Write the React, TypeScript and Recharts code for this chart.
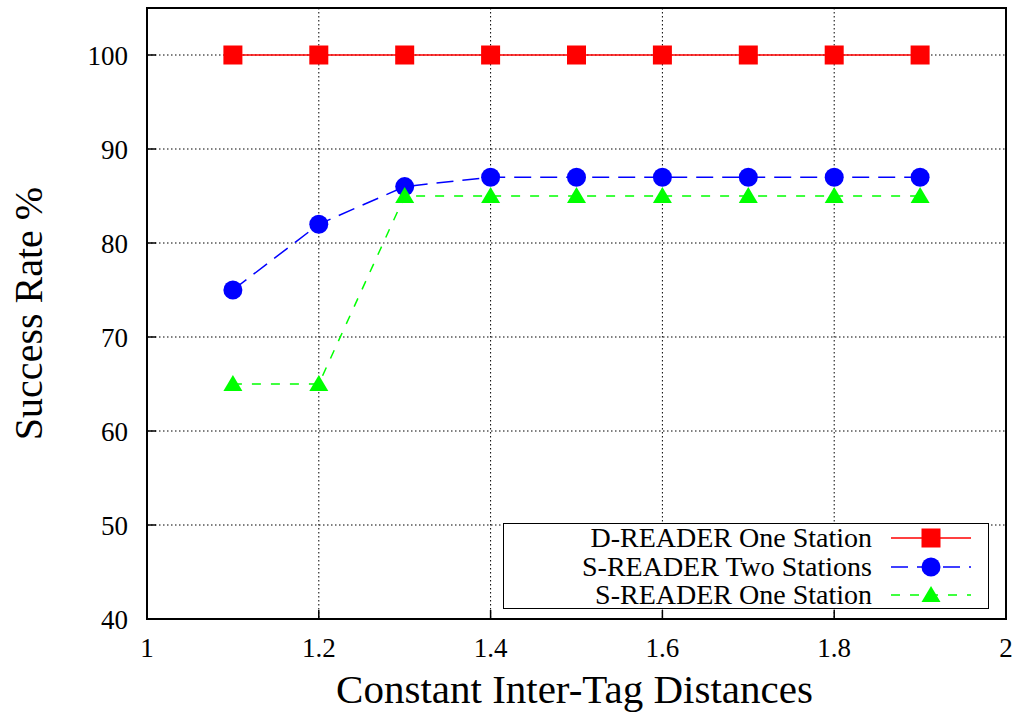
// Success rate vs. constant inter-tag distance, gnuplot-style look:
// boxed plot, inner ticks on all four sides, dotted grid, legend inside
// the lower right corner.

import { CartesianGrid, Legend, Line, LineChart, ReferenceArea, XAxis, YAxis } from "recharts";

const distances = [1.1, 1.2, 1.3, 1.4, 1.5, 1.6, 1.7, 1.8, 1.9];
const dReaderOne = [100, 100, 100, 100, 100, 100, 100, 100, 100];
const sReaderTwo = [75, 82, 86, 87, 87, 87, 87, 87, 87];
const sReaderOne = [65, 65, 85, 85, 85, 85, 85, 85, 85];

const xTicks = [1, 1.2, 1.4, 1.6, 1.8, 2];
const yTicks = [40, 50, 60, 70, 80, 90, 100];

const FONT = "Liberation Serif";
const RED = "#ff0000";
const BLUE = "#0000ff";
const GREEN = "#00ff00";

type Mark = "square" | "circle" | "triangle";

const SERIES: { key: string; name: string; color: string; dash?: string; mark: Mark }[] = [
  { key: "d1", name: "D-READER One Station", color: RED, mark: "square" },
  { key: "s2", name: "S-READER Two Stations", color: BLUE, dash: "17 9", mark: "circle" },
  { key: "s1", name: "S-READER One Station", color: GREEN, dash: "9 10", mark: "triangle" },
];

const data = distances.map((x, i) => ({
  x,
  d1: dReaderOne[i],
  s2: sReaderTwo[i],
  s1: sReaderOne[i],
}));

function markShape(mark: Mark, cx: number, cy: number, color: string, key?: string | number) {
  if (mark === "square") {
    return <rect key={key} x={cx - 9.5} y={cy - 9.5} width={19} height={19} fill={color} />;
  }
  if (mark === "circle") {
    return <circle key={key} cx={cx} cy={cy} r={9.5} fill={color} />;
  }
  return (
    <polygon
      key={key}
      points={`${cx},${cy - 9} ${cx - 9.5},${cy + 7} ${cx + 9.5},${cy + 7}`}
      fill={color}
    />
  );
}

function makeDot(mark: Mark, color: string) {
  return (props: any) => {
    const { cx, cy, index } = props;
    if (cx == null || cy == null) return <g key={index} />;
    return markShape(mark, cx, cy, color, index);
  };
}

function KeyBox() {
  return (
    <div
      style={{
        width: 486,
        height: 86,
        boxSizing: "border-box",
        border: "1.5px solid #000",
        background: "#fff",
        fontFamily: FONT,
        fontSize: 28,
        color: "#000",
      }}
    >
      {SERIES.map((s) => (
        <div key={s.key} style={{ display: "flex", alignItems: "center", height: 28.5, lineHeight: "28px" }}>
          <span style={{ width: 368, textAlign: "right", whiteSpace: "nowrap" }}>{s.name}</span>
          <svg width={80} height={24} style={{ marginLeft: 19 }}>
            <line
              x1={0}
              x2={80}
              y1={12}
              y2={12}
              stroke={s.color}
              strokeWidth={1.5}
              strokeDasharray={s.dash}
            />
            {markShape(s.mark, 40, 12, s.color)}
          </svg>
        </div>
      ))}
    </div>
  );
}

export default function App() {
  const tickStyle = { fill: "#000", fontSize: 27, fontFamily: FONT };
  return (
    <div style={{ position: "absolute", left: 0, top: 0, width: 1019, height: 715, background: "#fff" }}>
      <LineChart width={1019} height={715} data={data} margin={{ top: 8, right: 13, bottom: 0, left: 0 }}>
        <CartesianGrid xAxisId="bottom" yAxisId="left" stroke="#000" strokeDasharray="1.5 2.5" />
        <XAxis
          xAxisId="bottom"
          dataKey="x"
          type="number"
          domain={[1, 2]}
          ticks={xTicks}
          height={96}
          axisLine={false}
          tickSize={-9}
          tickMargin={28}
          tickLine={{ stroke: "#000", strokeWidth: 1.5 }}
          tick={tickStyle}
          label={{
            value: "Constant Inter-Tag Distances",
            position: "insideBottom",
            offset: 12,
            dx: -2,
            fill: "#000",
            fontSize: 41,
            fontFamily: FONT,
          }}
        />
        <XAxis
          xAxisId="top"
          orientation="top"
          dataKey="x"
          type="number"
          domain={[1, 2]}
          ticks={xTicks}
          height={0}
          axisLine={false}
          tickSize={-9}
          tick={false}
          tickLine={{ stroke: "#000", strokeWidth: 1.5 }}
        />
        <YAxis
          yAxisId="left"
          type="number"
          domain={[40, 105]}
          ticks={yTicks}
          width={147}
          axisLine={false}
          tickSize={-9}
          tickMargin={28}
          tickLine={{ stroke: "#000", strokeWidth: 1.5 }}
          tick={tickStyle}
          label={{
            value: "Success Rate %",
            angle: -90,
            position: "insideLeft",
            offset: 28,
            fill: "#000",
            fontSize: 40,
            fontFamily: FONT,
            style: { textAnchor: "middle" },
          }}
        />
        <YAxis
          yAxisId="right"
          orientation="right"
          type="number"
          domain={[40, 105]}
          ticks={yTicks}
          width={0}
          axisLine={false}
          tickSize={-9}
          tick={false}
          tickLine={{ stroke: "#000", strokeWidth: 1.5 }}
        />
        {SERIES.map((s) => (
          <Line
            key={s.key}
            xAxisId="bottom"
            yAxisId="left"
            type="linear"
            dataKey={s.key}
            name={s.name}
            stroke={s.color}
            strokeWidth={1.5}
            strokeDasharray={s.dash}
            dot={makeDot(s.mark, s.color)}
            activeDot={false}
            isAnimationActive={false}
          />
        ))}
        <ReferenceArea
          xAxisId="bottom"
          yAxisId="left"
          x1={1}
          x2={2}
          y1={40}
          y2={105}
          fill="none"
          fillOpacity={0}
          stroke="#000"
          strokeWidth={2}
        />
        <Legend
          layout="vertical"
          align="center"
          verticalAlign="middle"
          wrapperStyle={{ position: "absolute", left: 503, top: 523, width: 486, height: 86 }}
          content={() => <KeyBox />}
        />
      </LineChart>
    </div>
  );
}
